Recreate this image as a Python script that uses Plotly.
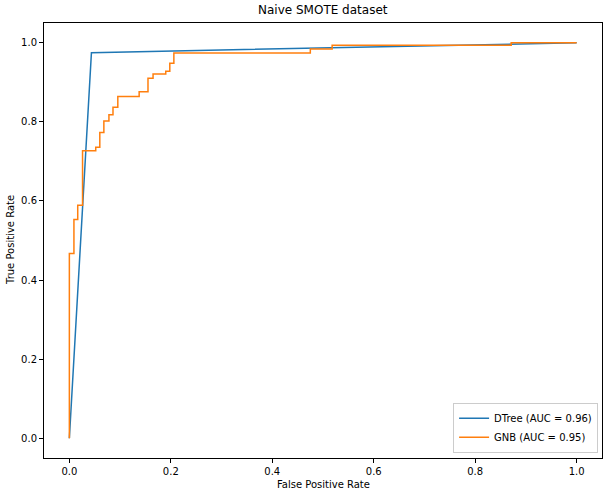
"""ROC curves for the naive SMOTE dataset, matplotlib-like styling."""

import plotly.graph_objects as go

DTREE_FPR = [0.0, 0.0435, 1.0]
DTREE_TPR = [0.0, 0.975, 1.0]

GNB_FPR = [
    0.0, 0.0, 0.009, 0.009, 0.0165, 0.0165, 0.026, 0.026, 0.052, 0.052,
    0.060, 0.060, 0.068, 0.068, 0.078, 0.078, 0.086, 0.086, 0.0955, 0.0955,
    0.1376, 0.1376, 0.155, 0.155, 0.165, 0.165, 0.190, 0.190, 0.198, 0.198,
    0.206, 0.206, 0.475, 0.475, 0.518, 0.518, 0.871, 0.871, 1.0,
]
GNB_TPR = [
    0.0, 0.467, 0.467, 0.553, 0.553, 0.589, 0.589, 0.727, 0.727, 0.736,
    0.736, 0.773, 0.773, 0.802, 0.802, 0.818, 0.818, 0.837, 0.837, 0.864,
    0.864, 0.876, 0.876, 0.910, 0.910, 0.921, 0.921, 0.928, 0.928, 0.948,
    0.948, 0.974, 0.974, 0.984, 0.984, 0.994, 0.994, 1.0, 1.0,
]

TICKS = [0.0, 0.2, 0.4, 0.6, 0.8, 1.0]
FONT = "DejaVu Sans"

fig = go.Figure()
fig.add_trace(
    go.Scatter(
        x=DTREE_FPR, y=DTREE_TPR, mode="lines",
        name="DTree (AUC = 0.96)", line=dict(color="#1f77b4", width=1.5),
    )
)
fig.add_trace(
    go.Scatter(
        x=GNB_FPR, y=GNB_TPR, mode="lines",
        name="GNB (AUC = 0.95)", line=dict(color="#ff7f0e", width=1.5),
    )
)

axis_style = dict(
    showgrid=False,
    zeroline=False,
    showline=True,
    linecolor="black",
    linewidth=1,
    mirror=True,
    ticks="outside",
    ticklen=4,
    tickwidth=1,
    tickcolor="black",
    tickvals=TICKS,
    tickformat=".1f",
    tickfont=dict(family=FONT, size=10, color="black"),
    automargin=False,
    range=[-0.05, 1.05],
)

fig.update_layout(
    width=609,
    height=496,
    template="none",
    paper_bgcolor="white",
    plot_bgcolor="white",
    font=dict(family=FONT, size=10, color="black"),
    margin=dict(l=44, r=7, t=23, b=38, autoexpand=False),
    xaxis=axis_style,
    yaxis=axis_style,
    legend=dict(
        x=0.993, xanchor="right", y=0.012, yanchor="bottom",
        bgcolor="rgba(255,255,255,0.8)",
        bordercolor="#cccccc", borderwidth=1,
        font=dict(family=FONT, size=10, color="black"),
        tracegroupgap=0,
        itemwidth=30,
    ),
    showlegend=True,
)

# title and axis titles placed like matplotlib's
fig.add_annotation(
    text="Naive SMOTE dataset", xref="paper", yref="paper",
    x=0.5, y=1, yanchor="bottom", yshift=4, showarrow=False,
    font=dict(family=FONT, size=12, color="black"),
)
fig.add_annotation(
    text="False Positive Rate", xref="paper", yref="paper",
    x=0.5, y=0, yanchor="top", yshift=-19, showarrow=False,
    font=dict(family=FONT, size=10, color="black"),
)
fig.add_annotation(
    text="True Positive Rate", xref="paper", yref="paper",
    x=0, y=0.5, xanchor="right", xshift=-26, textangle=-90, showarrow=False,
    font=dict(family=FONT, size=10, color="black"),
)

# the page body has a default 8px margin; drop it so the figure sits at 0,0
fig.write_html(
    "out.html",
    config={"displayModeBar": False},
    post_script="document.body.style.margin = '0';",
)
